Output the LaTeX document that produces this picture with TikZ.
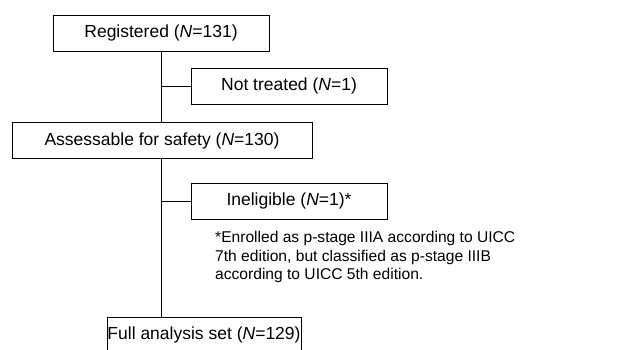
\documentclass[tikz,border=0pt]{standalone}
\usepackage{fontspec}
\setmainfont{Liberation Sans}
\usetikzlibrary{positioning,calc}

\tikzset{
  box/.style={draw, line width=0.8pt, minimum height=36pt, inner sep=0pt, font=\fontsize{17.5}{20}\selectfont},
  link/.style={line width=0.8pt}
}

\begin{document}
\begin{tikzpicture}[x=1pt, y=-1pt]
        \useasboundingbox (0, 0) rectangle (632, 350);

        % Kaesten
        \node[box, minimum width=216pt] (reg) at (161, 33) {Registered (\textit{N}=131)};
        \node[box, minimum width=196pt] (nottr) at (289, 86) {Not treated (\textit{N}=1)};
        \node[box, minimum width=300pt] (assess) at (162, 140.5) {Assessable for safety (\textit{N}=130)};
        \node[box, minimum width=196pt] (inel) at (289, 201) {Ineligible (\textit{N}=1)*};
        \node[box, minimum width=194pt] (fas) at (204, 335) {Full analysis set (\textit{N}=129)};

        % Fussnote
        \node[anchor=north west, align=left, inner sep=0pt, font=\fontsize{15.6}{18.5}\selectfont] (note) at (215, 231)
          {*Enrolled as p-stage IIIA according to UICC\\7th edition, but classified as p-stage IIIB\\according to UICC 5th edition.};

        % Verbindungen
        \draw[link] (reg.south) -- (reg.south |- assess.north);
        \draw[link] (reg.south |- assess.south) -- (reg.south |- fas.north);
        \draw[link] (reg.south |- nottr.west) -- (nottr.west);
        \draw[link] (reg.south |- inel.west) -- (inel.west);
    \end{tikzpicture}
\end{document}
